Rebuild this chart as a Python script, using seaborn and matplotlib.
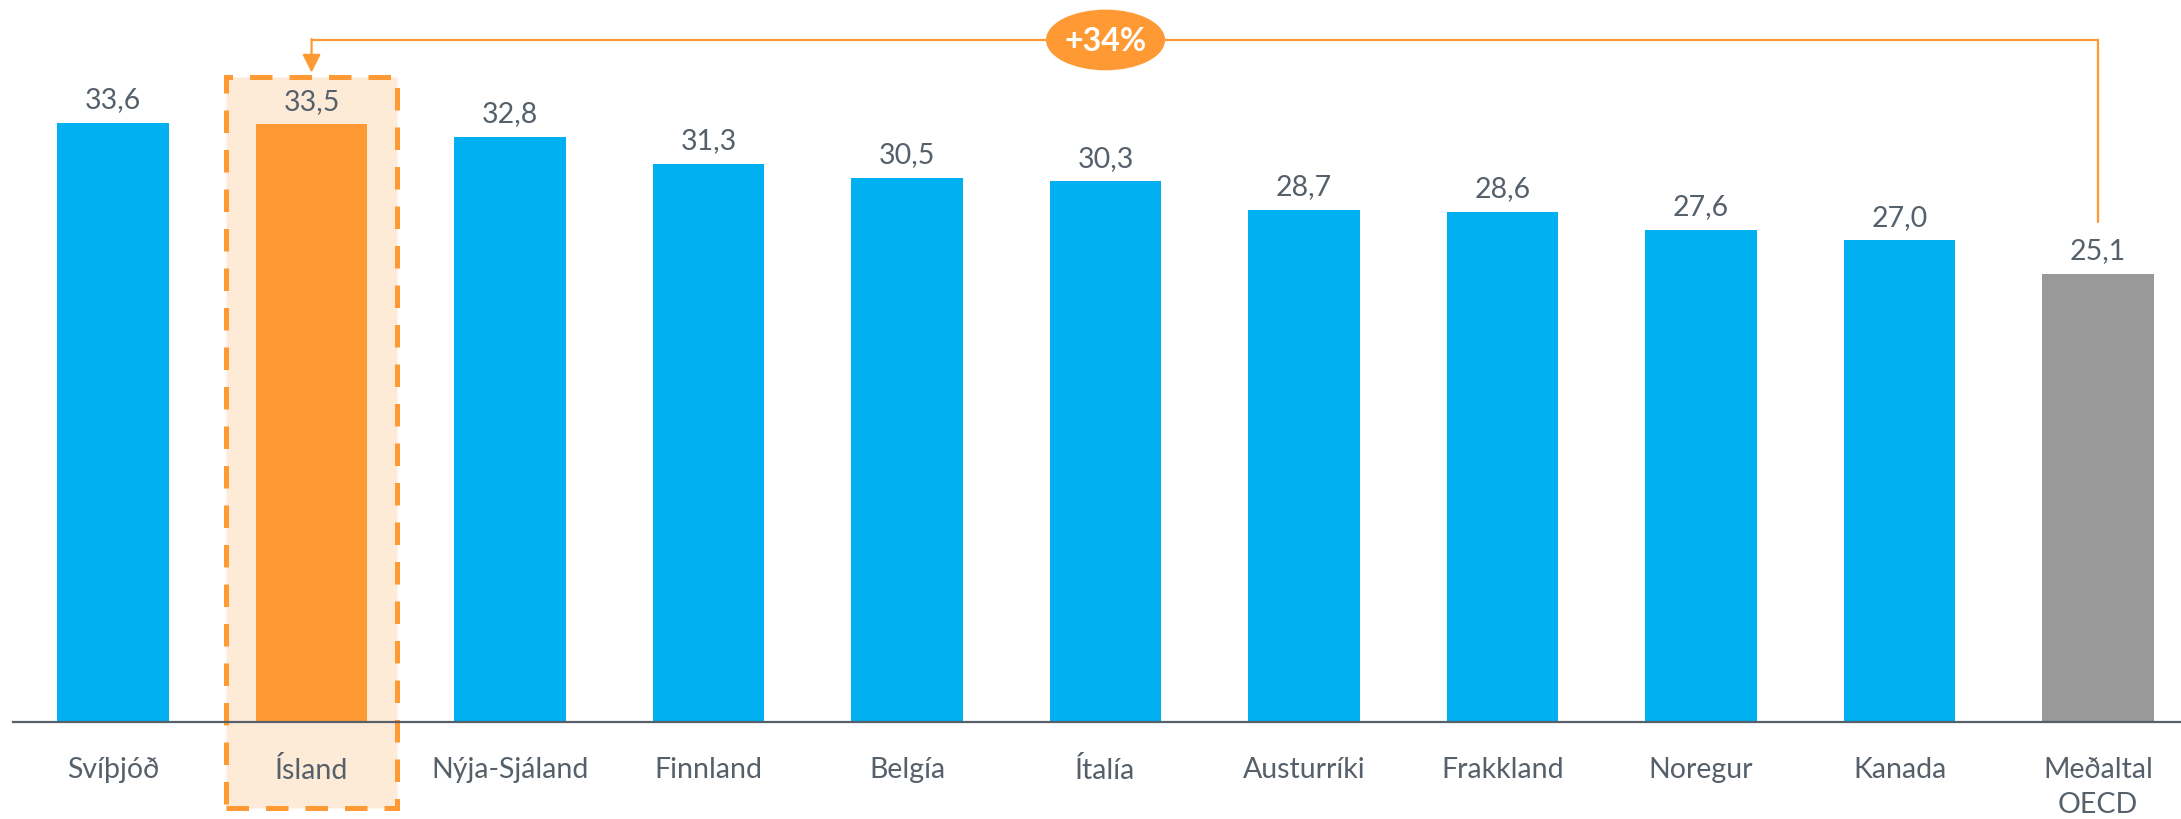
import numpy as np
import matplotlib
matplotlib.use("Agg")
import matplotlib.pyplot as plt
from matplotlib.patches import Rectangle, Ellipse
import pandas as pd
import seaborn as sns

# data
countries = ["Svíþjóð", "Ísland", "Nýja-Sjáland", "Finnland", "Belgía", "Ítalía",
             "Austurríki", "Frakkland", "Noregur", "Kanada", "Meðaltal\nOECD"]
values = [33.6, 33.5, 32.8, 31.3, 30.5, 30.3, 28.7, 28.6, 27.6, 27.0, 25.1]
highlight = "Ísland"
average = "Meðaltal\nOECD"
diff_label = "+34%"

BLUE = "#00B0F0"
ORANGE = "#FF9933"
GREY = "#999999"
TEXT = "#56606B"

colors = [ORANGE if c == highlight else GREY if c == average else BLUE for c in countries]
df = pd.DataFrame({"land": countries, "gildi": values})

sns.set_style("white")
plt.rcParams["font.family"] = ["Lato", "DejaVu Sans"]

fig = plt.figure(figsize=(21.81, 8.19), dpi=100)
ax = fig.add_axes([13 / 2181, 97 / 819, 1 - 13 / 2181, 722 / 819])

sns.barplot(data=df, x="land", y="gildi", hue="land", palette=colors, width=0.56,
            saturation=1, legend=False, ax=ax, zorder=3, linewidth=0)

ax.set_xlim(-0.504, 10.418)
ax.set_ylim(0, 40.47)
ax.set_xlabel("")
ax.set_ylabel("")
ax.set_yticks([])
for s in ["top", "right", "left"]:
    ax.spines[s].set_visible(False)
ax.spines["bottom"].set_color(TEXT)
ax.spines["bottom"].set_linewidth(1.6)
ax.spines["bottom"].set_zorder(4)
ax.tick_params(axis="x", length=0, pad=25, labelsize=20.5, labelcolor=TEXT)
for t in ax.get_xticklabels():
    t.set_linespacing(1.42)

labels = [f"{v:.1f}".replace(".", ",") for v in values]
for i, (v, lab) in enumerate(zip(values, labels)):
    ax.annotate(lab, (i, v), xytext=(0, 7), textcoords="offset points",
                ha="center", va="bottom", fontsize=20.5, color=TEXT, zorder=5)

# highlight box round Ísland
hi = countries.index(highlight)
box = Rectangle((hi - 0.432, -4.82), 0.864, 40.97, facecolor="#FDEBD7", edgecolor=ORANGE,
                linewidth=3.6, linestyle=(0, (4.5, 3.4)), zorder=0.2, clip_on=False)
ax.add_patch(box)

# connector from average to Ísland
av = countries.index(average)
top_y = 38.23
ax.plot([av, av, hi], [values[av] + 2.95, top_y, top_y], color=ORANGE, lw=1.6,
        solid_joinstyle="miter", zorder=5, clip_on=False)
ax.annotate("", xy=(hi, 36.4), xytext=(hi, top_y + 0.05),
            arrowprops=dict(arrowstyle="-|>,head_length=1.1,head_width=0.55",
                            color=ORANGE, lw=1.6, shrinkA=0, shrinkB=0), zorder=5)
badge_x = (hi + av) / 2 - 0.5
ax.add_patch(Ellipse((badge_x, top_y), 0.6, 3.4, facecolor=ORANGE,
                     edgecolor="none", zorder=6, clip_on=False))
ax.text(badge_x, top_y - 0.1, diff_label, ha="center", va="center", fontsize=23,
        fontweight="bold", color="white", zorder=7)

fig.savefig("out.png", dpi=100)
